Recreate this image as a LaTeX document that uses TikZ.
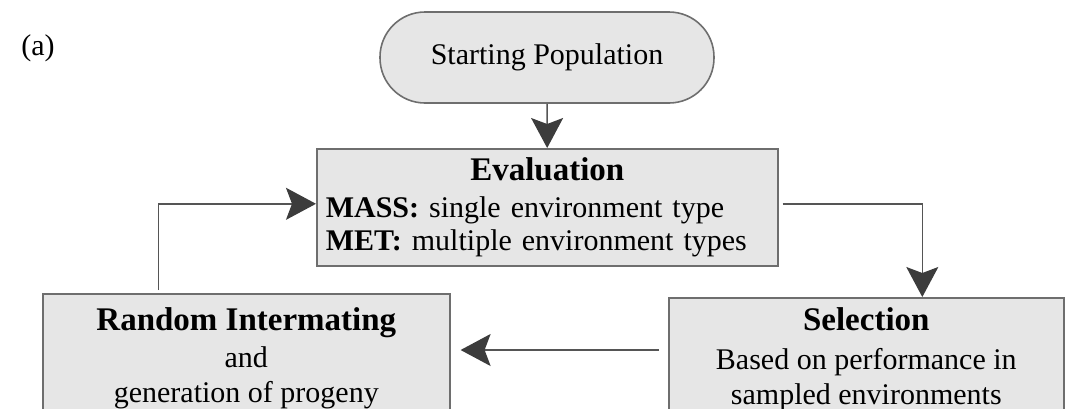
\documentclass[tikz,border=0pt]{standalone}
\usepackage{fontspec}
\setmainfont{Liberation Serif}
\usetikzlibrary{arrows.meta, positioning}
\definecolor{boxfill}{RGB}{230,230,230}
\definecolor{boxline}{RGB}{110,110,110}
\definecolor{linkcol}{RGB}{85,85,85}
\definecolor{headcol}{RGB}{60,60,60}
\newcommand{\titlefont}{\fontsize{16.5}{19}\selectfont\bfseries}
\newcommand{\bodyfont}{\fontsize{15}{17.5}\selectfont}
\tikzset{
  box/.style={draw=boxline, fill=boxfill, line width=0.8pt, inner sep=4pt, font=\bodyfont},
  startbox/.style={box, rounded corners=22.5pt, minimum width=167pt, minimum height=45.5pt},
  flow/.style={draw=linkcol, line width=0.75pt,
    -{Stealth[length=15pt, width=16pt, inset=3pt, color=headcol, fill=headcol]}},
}

\begin{document}
\begin{tikzpicture}[x=0.5pt, y=-0.5pt]
        \useasboundingbox (0,0) rectangle (1086,408);
        \clip (0,0) rectangle (1086,408);
        \node [font=\bodyfont] (lbl) at (38,48) {(a)};
        \node [startbox] (start) at (547,57.5) {Starting Population};
        \node [box, anchor=north west, minimum height=58.5pt, inner xsep=4.5pt, text width=221.5pt, align=left] (eval) at (316,148)
              {\vspace*{5.5pt}{\centering\titlefont Evaluation\par}\vspace{-4.5pt}
               \textbf{MASS:} single environment type\\[-1pt]
               \textbf{MET:} multiple environment types};
        \node [box, anchor=north west, minimum width=203.5pt, minimum height=64.5pt, align=center] (inter) at (42,293)
              {{\titlefont Random Intermating}\\[1pt] and\\ generation of progeny};
        \node [box, anchor=north west, minimum width=197.5pt, minimum height=61pt, align=center] (sel) at (668,297)
              {{\titlefont Selection}\\[2pt] Based on performance in\\ sampled environments};
        \coordinate (row) at (560,350);

        \draw [flow] (start) -- (eval);
        \draw [flow, shorten <=2pt] ([yshift=1.75pt]eval.east) -| ([xshift=28pt]sel.north);
        \draw [flow, shorten <=4.5pt, shorten >=5pt] (sel.west |- row) -- (inter.east |- row);
        \draw [flow, shorten <=1.5pt] ([xshift=-44pt]inter.north) |- ([yshift=1.75pt]eval.west);
\end{tikzpicture}
\end{document}
